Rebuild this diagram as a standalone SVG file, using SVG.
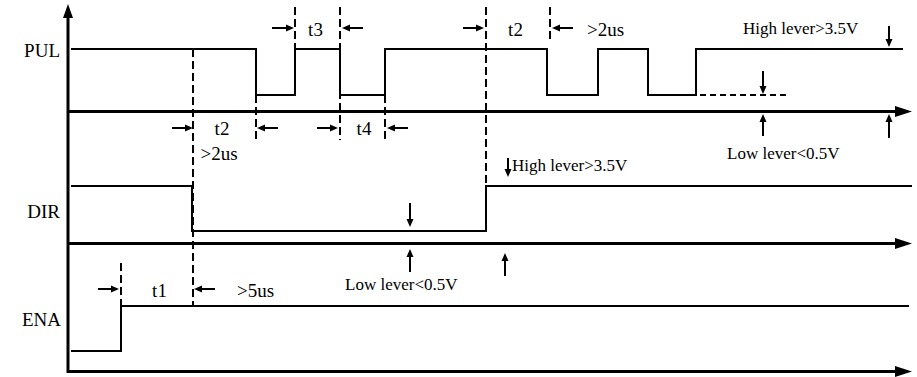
<svg xmlns="http://www.w3.org/2000/svg" width="917" height="377" viewBox="0 0 917 377">
<style>
.ax{stroke:#000;stroke-width:3;fill:none}
.sig{stroke:#000;stroke-width:2;fill:none}
.dash{stroke:#000;stroke-width:2;fill:none;stroke-dasharray:8 4}
.dot{stroke:#000;stroke-width:2;fill:none;stroke-dasharray:6 4}
.arr{stroke:#000;stroke-width:2;fill:none;marker-end:url(#ah)}
.head{fill:#000;stroke:none}
text{font-family:"Liberation Serif","Times New Roman",serif;fill:#000}
.sn{font-size:19px;text-anchor:end}
.tl{font-size:19px}
.tm{font-size:19px;text-anchor:middle}
.lv{font-size:17px}
</style>
<defs>
<marker id="ah" viewBox="0 0 8 8" refX="6" refY="4" markerWidth="8" markerHeight="8" markerUnits="userSpaceOnUse" orient="auto">
<path d="M0,0.5 L8,4 L0,7.5 Z" fill="#000"/>
</marker>
</defs>
<g id="axes">
<line class="ax" x1="68" y1="16" x2="68" y2="373"/>
<path class="head" d="M68,4 L73,18 L63,18 Z"/>
<line class="ax" x1="67" y1="111.5" x2="898" y2="111.5"/>
<path class="head" d="M912,111.5 L895,106 L895,117 Z"/>
<line class="ax" x1="67" y1="243.5" x2="898" y2="243.5"/>
<path class="head" d="M912,243.5 L895,238 L895,249 Z"/>
<line class="ax" x1="67" y1="371.5" x2="898" y2="371.5"/>
<path class="head" d="M912,371.5 L895,366 L895,377 Z"/>
</g>
<g id="PUL">
<text class="sn" x="60" y="57">PUL</text>
<path class="sig" d="M71,49 H256 V95 H295 V49 H340 V95 H385 V49 H547 V95 H598 V49 H648 V95 H696 V49 H903"/>
<path class="dot" d="M700,95 H790"/>
</g>
<g id="DIR">
<text class="sn" x="60" y="218">DIR</text>
<path class="sig" d="M71,186 H192 V231 H486 V186 H912"/>
</g>
<g id="ENA">
<text class="sn" x="61" y="326">ENA</text>
<path class="sig" d="M71,351 H121 V306 H909"/>
</g>
<g id="connectors">
<line class="dash" x1="193" y1="49" x2="193" y2="306"/>
<line class="dash" x1="121" y1="263" x2="121" y2="306"/>
<line class="dash" x1="256" y1="95" x2="256" y2="143"/>
<line class="dash" x1="295" y1="7" x2="295" y2="49"/>
<line class="dash" x1="340" y1="7" x2="340" y2="140"/>
<line class="dash" x1="385" y1="95" x2="385" y2="139"/>
<line class="dash" x1="486" y1="7" x2="486" y2="186"/>
<line class="dash" x1="550" y1="7" x2="550" y2="43"/>
<line class="arr" x1="272" y1="28" x2="292" y2="28"/>
<line class="arr" x1="363" y1="28" x2="344" y2="28"/>
<line class="arr" x1="463" y1="28" x2="482" y2="28"/>
<line class="arr" x1="573" y1="28" x2="554" y2="28"/>
<line class="arr" x1="172" y1="128" x2="191" y2="128"/>
<line class="arr" x1="278" y1="128" x2="259" y2="128"/>
<line class="arr" x1="317" y1="128" x2="336" y2="128"/>
<line class="arr" x1="408" y1="128" x2="389" y2="128"/>
<line class="arr" x1="98" y1="289" x2="117" y2="289"/>
<line class="arr" x1="215" y1="289" x2="196" y2="289"/>
<line class="arr" x1="889" y1="26" x2="889" y2="45"/>
<line class="arr" x1="763" y1="71" x2="763" y2="92"/>
<line class="arr" x1="763" y1="136" x2="763" y2="116"/>
<line class="arr" x1="889" y1="138" x2="889" y2="116"/>
<line class="arr" x1="508" y1="158" x2="508" y2="175"/>
<line class="arr" x1="410" y1="203" x2="410" y2="225"/>
<line class="arr" x1="410" y1="272" x2="410" y2="251"/>
<line class="arr" x1="505" y1="276" x2="505" y2="255"/>
</g>
<g id="labels">
<text class="tm" x="315.5" y="36">t3</text>
<text class="tm" x="515.5" y="36">t2</text>
<text class="tl" x="587" y="36">&gt;2us</text>
<text class="lv" x="743" y="34">High lever&gt;3.5V</text>
<text class="tm" x="222" y="135">t2</text>
<text class="tm" x="219" y="160">&gt;2us</text>
<text class="tm" x="364" y="135">t4</text>
<text class="lv" x="727" y="159">Low lever&lt;0.5V</text>
<text class="lv" x="512" y="171">High lever&gt;3.5V</text>
<text class="lv" x="345" y="290">Low lever&lt;0.5V</text>
<text class="tm" x="159.5" y="297">t1</text>
<text class="tl" x="237" y="297">&gt;5us</text>
</g>
</svg>
